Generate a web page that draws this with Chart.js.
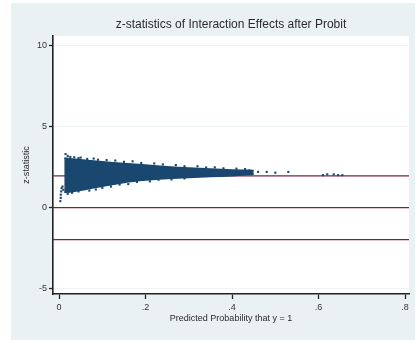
<!DOCTYPE html>
<html lang="en">
<head>
  <meta charset="UTF-8">
  <title>z-statistics of Interaction Effects after Probit</title>
  <script src="https://cdn.jsdelivr.net/npm/chart.js"></script>
  <style>
    html, body { margin: 0; padding: 0; background: #fff; }
    #wrap { width: 419px; height: 342px; }
  </style>
</head>
<body>
  <div id="wrap"><canvas id="grafico" width="419" height="342"></canvas></div>

  <script>
    // dense part of the scatter: upper / lower edge of the cloud
    const cloudX     = [0.012, 0.03, 0.06, 0.10, 0.15, 0.20, 0.25, 0.30, 0.35, 0.40, 0.45];
    const cloudUpper = [3.05, 3.00, 2.92, 2.82, 2.72, 2.62, 2.52, 2.44, 2.38, 2.32, 2.28];
    const cloudLower = [0.95, 0.98, 1.12, 1.32, 1.55, 1.70, 1.80, 1.86, 1.91, 1.96, 2.05];

    // loose points (left tail, ragged edges, sparse right side)
    const looseX = [0.003, 0.004, 0.004, 0.005, 0.006, 0.008, 0.010,
                    0.015, 0.020, 0.026, 0.035, 0.045, 0.05, 0.065, 0.08, 0.09, 0.11, 0.13, 0.15,
                    0.17, 0.19, 0.22, 0.24, 0.27, 0.29, 0.32, 0.34, 0.36, 0.38, 0.41, 0.43,
                    0.02, 0.03, 0.045, 0.07, 0.085, 0.10, 0.12, 0.14, 0.16, 0.18, 0.21, 0.23, 0.26, 0.29,
                    0.43, 0.44, 0.46, 0.48, 0.50, 0.53, 0.61, 0.62, 0.635, 0.645, 0.655];
    const looseY = [0.40, 0.60, 0.80, 1.00, 1.20, 1.30, 1.10,
                    3.30, 3.18, 3.12, 3.10, 3.05, 3.08, 3.00, 3.02, 2.95, 2.93, 2.90, 2.82,
                    2.85, 2.75, 2.72, 2.66, 2.62, 2.55, 2.55, 2.47, 2.48, 2.42, 2.40, 2.36,
                    0.85, 0.92, 1.00, 1.05, 1.12, 1.22, 1.30, 1.42, 1.45, 1.58, 1.62, 1.72, 1.74, 1.80,
                    2.35, 2.30, 2.20, 2.20, 2.15, 2.20, 2.00, 2.05, 2.05, 2.00, 2.00];

    // reference lines (z = +/-1.96 and 0)
    const refLines = [1.96, 0, -1.96];

    const xTicks = [0, 0.2, 0.4, 0.6, 0.8];
    const xTickLabels = ["0", ".2", ".4", ".6", ".8"];
    const yTicks = [-5, 0, 5, 10];
    const yTickLabels = ["-5", "0", "5", "10"];

    const xMin = -0.014, xMax = 0.809;
    const yMin = -5.31, yMax = 10.56;

    const navy = "#1a476f";
    const maroon = "#7e2240";
    const fontFam = "'Liberation Sans', Arial, sans-serif";

    const toPts = (xs, ys) => xs.map((x, i) => ({ x: x, y: ys[i] }));

    const datasets = [];
    datasets.push({
      data: toPts(cloudX, cloudUpper),
      borderColor: navy, backgroundColor: navy, borderWidth: 1.5,
      pointRadius: 0, fill: "+1", tension: 0.2, order: 1
    });
    datasets.push({
      data: toPts(cloudX, cloudLower),
      borderColor: navy, borderWidth: 1.5,
      pointRadius: 0, fill: false, tension: 0.2, order: 1
    });
    datasets.push({
      data: toPts(looseX, looseY),
      showLine: false, pointRadius: 1.5, pointStyle: "rect",
      pointBackgroundColor: navy, pointBorderWidth: 0, order: 0
    });
    refLines.forEach(v => {
      datasets.push({
        data: [{ x: xMin, y: v }, { x: xMax, y: v }],
        borderColor: maroon, borderWidth: 1.3, pointRadius: 0, fill: false, order: 5
      });
    });

    const fondo = {
      id: "fondo",
      beforeDraw(chart) {
        const c = chart.ctx, a = chart.chartArea;
        c.save();
        c.fillStyle = "#ffffff";
        c.fillRect(0, 0, chart.width, chart.height);
        c.fillStyle = "#eaf1f3";
        c.fillRect(11, 3, 404, 337);
        c.fillStyle = "#ffffff";
        c.fillRect(a.left, a.top, a.right - a.left, a.bottom - a.top);
        c.restore();
      },
      afterDraw(chart) {
        const c = chart.ctx, a = chart.chartArea;
        c.save();
        c.fillStyle = "#2b2b2b";
        c.textAlign = "center";
        c.textBaseline = "middle";
        c.font = "12px " + fontFam;
        c.fillText("z-statistics of Interaction Effects after Probit", (a.left + a.right) / 2, 25);
        c.font = "9px " + fontFam;
        c.fillText("Predicted Probability that y = 1", (a.left + a.right) / 2, 319);
        c.translate(27, (a.top + a.bottom) / 2);
        c.rotate(-Math.PI / 2);
        c.fillText("z-statistic", 0, 0);
        c.restore();
      }
    };

    const ctx = document.getElementById("grafico").getContext("2d");
    new Chart(ctx, {
      type: "line",
      data: { datasets: datasets },
      plugins: [fondo],
      options: {
        responsive: false,
        animation: false,
        layout: { padding: { left: 11, right: 10, top: 36, bottom: 0 } },
        plugins: { legend: { display: false }, tooltip: { enabled: false }, title: { display: false } },
        scales: {
          x: {
            type: "linear", min: xMin, max: xMax,
            afterBuildTicks: s => { s.ticks = xTicks.map(v => ({ value: v })); },
            afterFit: s => { s.height = 48; },
            ticks: {
              callback: (v) => xTickLabels[xTicks.indexOf(v)],
              color: "#333", font: { size: 9, family: fontFam }, padding: 3, maxRotation: 0
            },
            grid: { drawOnChartArea: false, tickLength: 5, tickColor: "#222", tickWidth: 1.3 },
            border: { color: "#222", width: 1.6 }
          },
          y: {
            min: yMin, max: yMax,
            afterBuildTicks: s => { s.ticks = yTicks.map(v => ({ value: v })); },
            afterFit: s => { s.width = 42; },
            ticks: {
              callback: (v) => yTickLabels[yTicks.indexOf(v)],
              color: "#333", font: { size: 9, family: fontFam }, padding: 2
            },
            grid: { color: "#eef3f5", lineWidth: 1, tickLength: 4, tickColor: "#222", tickWidth: 1.3 },
            border: { color: "#222", width: 1.6 }
          }
        }
      }
    });
  </script>
</body>
</html>
